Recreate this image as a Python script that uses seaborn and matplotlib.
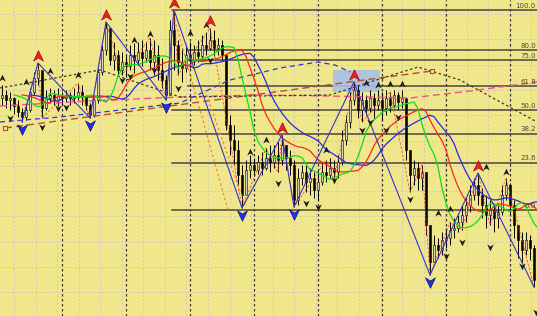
import numpy as np
import pandas as pd
import matplotlib
matplotlib.use("Agg")
import matplotlib.pyplot as plt
import seaborn as sns
from matplotlib.path import Path
from matplotlib.patches import Rectangle

# ---------------- data (price units; candle index on x) ----------------
close = [115, 110, 112, 104, 98, 93, 100, 118, 132, 140,
         102, 112, 115, 110, 114, 112, 115, 112, 114, 118,
         113, 105, 95, 110, 138, 160, 182, 150, 155, 140,
         148, 144, 155, 150, 158, 152, 160, 148, 155, 140,
         130, 115, 180, 165, 148, 142, 155, 150, 158, 154,
         165, 162, 170, 162, 165, 155, 85, 70, 60, 35,
         15, 40, 45, 40, 48, 42, 52, 48, 55, 50,
         65, 52, 45, 10, 32, 38, 28, 32, 20, 28,
         38, 35, 42, 38, 48, 70, 88, 110, 120, 100,
         110, 102, 112, 105, 110, 102, 112, 105, 115, 108,
         112, 60, 35, 42, 32, 38, -15, -52, -35, -40,
         -30, -28, -20, -18, -12, -5, 5, 15, 25, 15,
         5, -5, 0, -8, -2, 15, 25, 5, -15, -30,
         -40, -30, -38, -70]
high = [125, 120, 118, 113, 110, 102, 105, 122, 138, 147,
        138, 120, 122, 120, 122, 118, 120, 118, 122, 127,
        125, 115, 107, 112, 142, 165, 188, 182, 168, 160,
        158, 155, 165, 167, 168, 170, 168, 172, 170, 165,
        152, 135, 190, 200, 170, 162, 165, 168, 165, 170,
        175, 178, 182, 180, 172, 170, 155, 95, 85, 70,
        45, 50, 55, 52, 55, 58, 62, 65, 65, 68,
        75, 65, 60, 50, 42, 45, 45, 42, 38, 40,
        48, 50, 52, 50, 55, 80, 95, 118, 128, 125,
        118, 115, 120, 117, 120, 118, 120, 118, 120, 118,
        120, 110, 60, 50, 48, 45, 35, -18, -25, -28,
        -22, -18, -12, -8, -5, 5, 12, 25, 32, 37,
        22, 15, 10, 5, 5, 25, 32, 27, 10, -15,
        -22, -22, -25, -35]
low = [105, 102, 100, 96, 93, 88, 90, 98, 115, 125,
       92, 100, 107, 105, 104, 106, 108, 105, 107, 110,
       105, 100, 92, 93, 107, 135, 155, 145, 140, 135,
       135, 133, 140, 137, 145, 144, 148, 140, 135, 130,
       122, 110, 115, 140, 135, 128, 138, 142, 145, 148,
       152, 155, 160, 154, 155, 150, 80, 55, 45, 25,
       2, 20, 32, 34, 36, 35, 40, 38, 42, 38,
       45, 40, 35, 3, 5, 25, 18, 15, 12, 10,
       25, 28, 32, 30, 32, 45, 65, 82, 105, 92,
       88, 95, 98, 92, 100, 90, 95, 98, 102, 100,
       102, 50, 18, 25, 20, 20, -25, -65, -52, -48,
       -45, -38, -35, -28, -22, -20, -12, -2, 10, 5,
       -8, -18, -15, -22, -18, -5, 10, -5, -28, -48,
       -52, -45, -50, -77]
first_open = 112

fib_levels = [100.0, 80.0, 75.0, 61.8, 50.0, 38.2, 23.6, 0.0]
fib_labels = ["100.0", "80.0", "75.0", "61.8", "50.0", "38.2", "23.6", "0.0"]
fib_start = [42.5, 46.5, 46.5, 46.5, 42.5, 42.5, 42.5, 42.5]
fib_high, fib_low = 200.0, 0.0

zz_idx = [5, 9, 22, 26, 41, 43, 60, 70, 73, 88, 107, 119, 133]
zz_kind = ["L", "H", "L", "H", "L", "H", "L", "H", "L", "H", "L", "H", "L"]

zz2_idx = [5, 9, 10, 19, 22, 26, 30, 37, 41, 43, 44, 52, 60, 66, 69, 70, 73,
           81, 83, 88, 90, 97, 102, 105, 107, 112, 115, 119, 122, 126, 133]
zz2_kind = ["L", "H", "L", "H", "L", "H", "L", "H", "L", "H", "L", "H", "L", "H", "L", "H", "L",
            "H", "L", "H", "L", "H", "L", "H", "L", "H", "L", "H", "L", "H", "L"]

red_arrow_idx = [9, 26, 43, 52, 70, 88, 119]
blue_arrow_idx = [5, 22, 41, 60, 73, 107]

up_i = [0, 6, 12, 19, 33, 37, 47, 51, 62, 66, 81, 91, 94, 97, 100, 109, 112, 121, 126]
up_p = [132, 128, 139, 135, 170, 176, 177, 185, 58, 70, 60, 127, 125, 126, 126, -3, 1, 43, 38]
dn_i = [2, 10, 14, 16, 30, 32, 38, 44, 52, 69, 76, 79, 83, 90, 92, 96, 99, 102, 111, 115, 122, 130, 133.5]
dn_p = [92, 83, 102, 103, 130, 134, 140, 122, 150, 27, 7, 3, 30, 80, 88, 80, 93, 11, -46, -32, -37, -56, -102]

trend_i = [0.75, 107.5]
trend_p = [82, 139]
pink_i = [-0.5, 22, 44.5, 64.5, 82, 102, 117, 133.75]
pink_p = [104, 109, 113, 115, 114, 112, 119, 128]
bdash_i = [-0.5, 24.5, 44.5, 82, 92, 104, 114.5, 133.75]
bdash_p = [122, 140, 113, 115, 128, 143, 130, 88]
bluedash_i = [-0.5, 14.5, 29.5, 44.5, 57, 69.5, 79, 83.25, 87]
bluedash_p = [88, 93, 100, 107, 130, 142, 148, 145, 138]
orange1_i = [42.5, 56.5]
orange1_p = [200, 0]
orange2_i = [50.75, 60.75]
orange2_p = [120, 5]

box_i = [82.75, 94.5]
box_p = [118, 140]

separators = [15, 31, 47, 63, 79, 95, 111, 127]

# ---------------- figure ----------------
BG = "#f0e68c"
fig = plt.figure(figsize=(5.37, 3.16), dpi=100, facecolor=BG)
ax = fig.add_axes([0, 0, 1, 1])
ax.set_facecolor(BG)
for s in ax.spines.values():
    s.set_visible(False)

N = len(close)
xs = np.arange(N)
c = np.array(close, float)
h = np.array(high, float)
l = np.array(low, float)
o = np.concatenate([[first_open], c[:-1]])

ax.set_xlim(-0.5, 133.75)
ax.set_ylim(-106, 210)

# grid
for gx in np.arange(3, 134, 5.39):
    ax.axvline(gx, color="#cfcab6", lw=0.7, ls=(0, (2, 2)), zorder=0)
for gy in np.arange(196, -106, -25.3):
    ax.axhline(gy, color="#cfcab6", lw=0.7, ls=(0, (2, 2)), zorder=0)
for sx in separators:
    ax.axvline(sx, color="#3a3a30", lw=0.9, ls=(0, (2, 2)), zorder=1)

# fibonacci
for lev, lab, st in zip(fib_levels, fib_labels, fib_start):
    yv = fib_low + (fib_high - fib_low) * lev / 100.0
    ax.plot([st, 140], [yv, yv], color="#4a4636", lw=1.1, zorder=2)
    ax.text(0.998, yv + 1.5, lab, transform=ax.get_yaxis_transform(),
            fontsize=5.0, color="#4a4a40", ha="right", va="bottom", zorder=6)

# light blue box
ax.add_patch(Rectangle((box_i[0], box_p[0]), box_i[1] - box_i[0], box_p[1] - box_p[0],
                       facecolor="#a9bfe6", edgecolor="none", alpha=0.9, zorder=2))

# candles
upc = c >= o
ax.vlines(xs, l, h, color="black", lw=0.7, zorder=3)
ax.bar(xs[upc], (c - o)[upc], bottom=o[upc], width=0.5, color="#d4d0c4",
       edgecolor="black", linewidth=0.4, zorder=4)
ax.bar(xs[~upc], (o - c)[~upc], bottom=c[~upc], width=0.5, color="black",
       edgecolor="black", linewidth=0.4, zorder=4)

# dashed helper lines
sns.lineplot(x=trend_i, y=trend_p, ax=ax, color="#b4502a", lw=1.0,
             linestyle=(0, (5, 3)), zorder=5)
ax.scatter(trend_i, trend_p, marker="s", s=10, facecolor=BG, edgecolor="#b4502a", lw=0.8, zorder=6)
sns.lineplot(x=pink_i, y=pink_p, ax=ax, color="#f0508c", lw=1.0, linestyle=(0, (5, 3)), zorder=5)
sns.lineplot(x=bdash_i, y=bdash_p, ax=ax, color="#3a3a2a", lw=0.9, linestyle=(0, (2, 2)), zorder=5)
sns.lineplot(x=bluedash_i, y=bluedash_p, ax=ax, color="#2a3ad8", lw=0.9, linestyle=(0, (4, 3)), zorder=5)
sns.lineplot(x=orange1_i, y=orange1_p, ax=ax, color="#f08a3c", lw=0.9, linestyle=(0, (2, 2)), zorder=5)
sns.lineplot(x=orange2_i, y=orange2_p, ax=ax, color="#f08a3c", lw=0.9, linestyle=(0, (2, 2)), zorder=5)

# secondary red dashed zigzag
zz2_v = [h[i] if k == "H" else l[i] for i, k in zip(zz2_idx, zz2_kind)]
sns.lineplot(x=zz2_idx, y=zz2_v, ax=ax, color="#e83a2a", lw=0.6, linestyle=(0, (3, 2)),
             sort=False, estimator=None, zorder=5, alpha=0.85)

# alligator on median price (jaw blue, teeth red, lips green)
med = pd.Series((h + l) / 2.0)
for n, sh, col in [(10, 7, "#2a2ae0"), (7, 5, "#ff2a1a"), (4, 3, "#10e010")]:
    sm = med.ewm(alpha=1.0 / n, adjust=False).mean()
    sns.lineplot(x=xs + sh, y=sm.values, ax=ax, color=col, lw=0.9, zorder=5)

# main zigzag
zz_v = [h[i] if k == "H" else l[i] for i, k in zip(zz_idx, zz_kind)]
sns.lineplot(x=zz_idx, y=zz_v, ax=ax, color="#3636c8", lw=0.8, sort=False, estimator=None, zorder=5)

# markers
up_path = Path([(0, 1), (0.85, -0.8), (0, -0.25), (-0.85, -0.8), (0, 1)],
               [Path.MOVETO, Path.LINETO, Path.LINETO, Path.LINETO, Path.CLOSEPOLY])
dn_path = Path([(0, -1), (0.85, 0.8), (0, 0.25), (-0.85, 0.8), (0, -1)],
               [Path.MOVETO, Path.LINETO, Path.LINETO, Path.LINETO, Path.CLOSEPOLY])
ax.scatter(up_i, up_p, marker=up_path, s=30, color="#1a1a1a", lw=0, zorder=7)
ax.scatter(dn_i, dn_p, marker=dn_path, s=30, color="#1a1a1a", lw=0, zorder=7)
ax.scatter(red_arrow_idx, [h[i] + 7 for i in red_arrow_idx], marker=up_path, s=70,
           facecolor="#f01e1e", edgecolor="#a01010", lw=0.5, zorder=8)
ax.scatter(blue_arrow_idx, [l[i] - 7 for i in blue_arrow_idx], marker=dn_path, s=70,
           facecolor="#2030e8", edgecolor="#101080", lw=0.5, zorder=8)

ax.set_xticks([])
ax.set_yticks([])
ax.set_xlabel("")
ax.set_ylabel("")
if ax.get_legend() is not None:
    ax.get_legend().remove()

fig.savefig("out.png", dpi=100, facecolor=BG)
